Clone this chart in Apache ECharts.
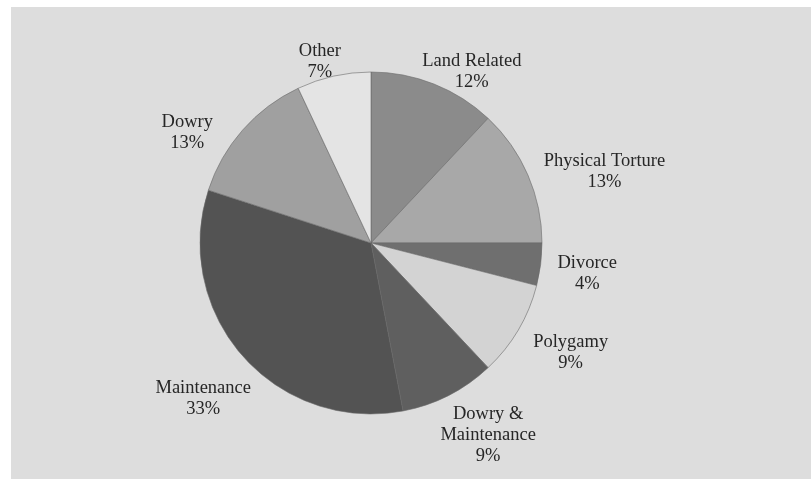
<!DOCTYPE html>
<html>
<head>
<meta charset="utf-8">
<script src="https://cdn.jsdelivr.net/npm/echarts@6/dist/echarts.min.js"></script>
<style>
html,body{margin:0;padding:0;background:#ffffff;}
#chart{position:absolute;left:11px;top:7px;width:800px;height:472px;}
</style>
</head>
<body>
<div id="chart"></div>
<script>
const categories = ['Land Related','Physical Torture','Divorce','Polygamy','Dowry &\nMaintenance','Maintenance','Dowry','Other'];
const values = [12, 13, 4, 9, 9, 33, 13, 7];
const sliceColors = ['#8b8b8b','#a8a8a8','#6f6f6f','#d3d3d3','#5f5f5f','#535353','#a0a0a0','#e4e4e4'];
// label nudges (layout only)
const labelNudges = [[18, 38], [27, 18], [-7, 2], [6, -5], [15, -8], [1, 7], [-15, 38], [-2, 38]];

const data = categories.map((c, i) => ({ name: c, value: values[i], itemStyle: { color: sliceColors[i] } }));
const ghost = categories.map((c, i) => ({ name: c, value: values[i], label: { offset: labelNudges[i] } }));

const chart = echarts.init(document.getElementById('chart'), null, { renderer: 'canvas' });
chart.setOption({
  backgroundColor: '#dddddd',
  animation: false,
  series: [
    {
      type: 'pie',
      center: [360, 236],
      radius: [0, 171],
      startAngle: 90,
      clockwise: true,
      label: { show: false },
      labelLine: { show: false },
      itemStyle: { borderColor: '#6a6a6a', borderWidth: 0.6 },
      emphasis: { disabled: true },
      data: data
    },
    {
      type: 'pie',
      center: [360, 236],
      radius: [212, 232],
      startAngle: 90,
      clockwise: true,
      silent: true,
      itemStyle: { color: 'rgba(0,0,0,0)' },
      label: {
        show: true,
        position: 'inside',
        formatter: '{b}\n{d}%',
        fontFamily: 'Liberation Serif',
        fontSize: 18.5,
        lineHeight: 21,
        color: '#262626',
        align: 'center'
      },
      labelLine: { show: false },
      emphasis: { disabled: true },
      data: ghost
    }
  ]
});
</script>
</body>
</html>
